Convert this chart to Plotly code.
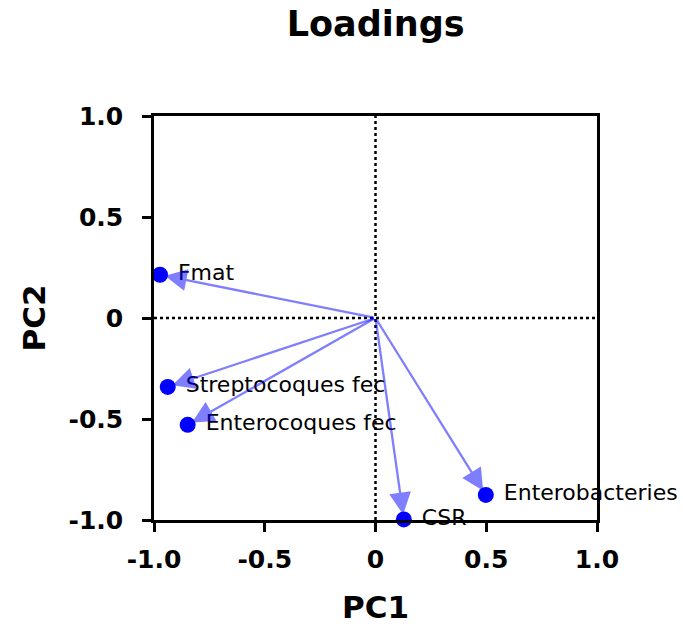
import plotly.graph_objects as go

# PCA loadings (PC1, PC2) for each variable
variables = ["Fmat", "Streptocoques fec", "Enterocoques fec", "Enterobacteries", "CSR"]
pc1 = [-0.973, -0.938, -0.848, 0.498, 0.128]
pc2 = [0.214, -0.341, -0.529, -0.876, -0.997]

tick_vals = [-1.0, -0.5, 0.0, 0.5, 1.0]
tick_text = ["-1.0", "-0.5", "0", "0.5", "1.0"]

FONT = "DejaVu Sans, Arial, Helvetica, sans-serif"
ARROW_COLOR = "rgba(0,0,255,0.5)"

fig = go.Figure()

# dotted reference lines through the origin
fig.add_shape(type="line", xref="x", yref="y", x0=-1, x1=1, y0=0, y1=0,
              line=dict(color="black", width=2.5, dash="dot"), layer="below")
fig.add_shape(type="line", xref="x", yref="y", x0=0, x1=0, y0=-1, y1=1,
              line=dict(color="black", width=2.5, dash="dot"), layer="below")

# loading points with their labels
fig.add_trace(go.Scatter(
    x=pc1, y=pc2, mode="markers+text",
    text=[" " + v for v in variables],
    textposition="middle right",
    textfont=dict(family=FONT, size=22, color="black"),
    marker=dict(color="#0000FF", size=16, line=dict(width=0)),
    cliponaxis=False, showlegend=False, hoverinfo="skip",
))

# arrows from the origin to each loading
for x, y in zip(pc1, pc2):
    fig.add_annotation(
        x=x, y=y, ax=0, ay=0, xref="x", yref="y", axref="x", ayref="y",
        text="", showarrow=True, arrowhead=2, arrowsize=1.9, arrowwidth=2.3,
        arrowcolor=ARROW_COLOR, standoff=5,
    )

axis_common = dict(
    range=[-1, 1], tickvals=tick_vals, ticktext=tick_text,
    showgrid=False, zeroline=False,
    showline=True, linecolor="black", linewidth=2.5, mirror=True,
    ticks="outside", ticklen=9, tickwidth=2.5, tickcolor="black",
    tickfont=dict(family=FONT, size=25, color="black", weight="bold"),
)

fig.update_layout(
    width=683, height=631,
    margin=dict(l=154, r=86, t=116, b=109),
    paper_bgcolor="white", plot_bgcolor="white",
    title=dict(text="<b>Loadings</b>", x=0.55, xanchor="center", y=0.962, yanchor="middle",
               font=dict(family=FONT, size=35, color="black")),
    xaxis=dict(**axis_common, ticklabelstandoff=6,
               title=dict(text="<b>PC1</b>", standoff=24,
                          font=dict(family=FONT, size=31, color="black"))),
    yaxis=dict(**axis_common, ticklabelstandoff=14,
               title=dict(text="<b>PC2</b>", standoff=14,
                          font=dict(family=FONT, size=31, color="black"))),
)

fig.write_html("out.html")
